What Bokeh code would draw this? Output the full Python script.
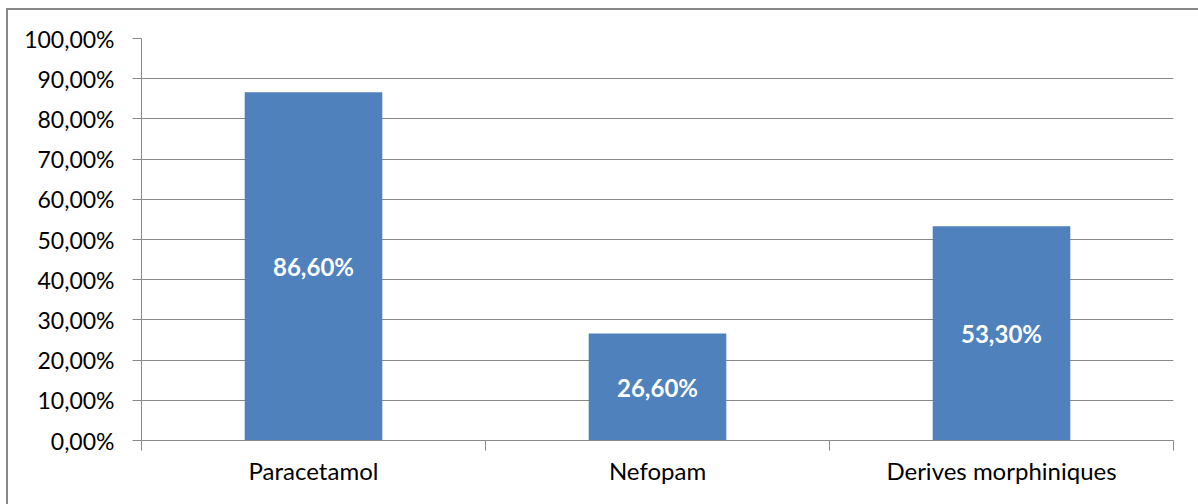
from bokeh.plotting import figure
from bokeh.models import ColumnDataSource, FixedTicker, Range1d, LabelSet
from bokeh.core.properties import value
from bokeh.embed import file_html
from bokeh.resources import INLINE

categories = ["Paracetamol", "Nefopam", "Derives morphiniques"]
values = [0.866, 0.266, 0.533]
value_labels = ["86,60%", "26,60%", "53,30%"]
y_ticks = [0.0, 0.1, 0.2, 0.3, 0.4, 0.5, 0.6, 0.7, 0.8, 0.9, 1.0]
y_tick_labels = ["0,00%", "10,00%", "20,00%", "30,00%", "40,00%", "50,00%",
                 "60,00%", "70,00%", "80,00%", "90,00%", "100,00%"]

FONT = "Lato"
GRID = "#898989"

xs = [i + 0.5 for i in range(len(categories))]
src = ColumnDataSource(dict(x=xs, top=values, mid=[v / 2 for v in values], lab=value_labels))

p = figure(width=1192, height=496, output_backend="svg", toolbar_location=None,
           x_range=Range1d(0, len(categories)), y_range=Range1d(0, 1),
           min_border_left=133, min_border_right=27, min_border_top=28, min_border_bottom=66,
           margin=(8, 0, 0, 6),
           styles={"border-left": "2px solid #888888", "border-top": "2px solid #888888"})
p.outline_line_color = None
p.background_fill_color = "white"
p.border_fill_color = "white"

p.vbar(x="x", top="top", width=0.4, source=src, fill_color="#4F81BD", line_color=None)

p.add_layout(LabelSet(x="x", y="mid", text="lab", source=src, text_color="white",
                      text_font=value(FONT), text_font_style="bold", text_font_size="24px",
                      text_align="center", text_baseline="middle"))

# y axis
p.yaxis.ticker = FixedTicker(ticks=y_ticks, minor_ticks=[])
p.yaxis.major_label_overrides = {t: l for t, l in zip(y_ticks, y_tick_labels)}
p.yaxis.axis_line_color = GRID
p.yaxis.major_tick_line_color = GRID
p.yaxis.major_tick_out = 9
p.yaxis.major_tick_in = 0
p.yaxis.minor_tick_line_color = None
p.yaxis.major_label_standoff = 18
p.yaxis.major_label_text_font = FONT
p.yaxis.major_label_text_font_size = "23px"
p.yaxis.major_label_text_color = "black"

# x axis: labels at centres, ticks at category boundaries
p.xaxis.ticker = FixedTicker(ticks=xs, minor_ticks=[0, 1, 2, 3])
p.xaxis.major_label_overrides = {x: c for x, c in zip(xs, categories)}
p.xaxis.axis_line_color = GRID
p.xaxis.major_tick_line_color = None
p.xaxis.major_tick_out = 0
p.xaxis.major_tick_in = 0
p.xaxis.minor_tick_line_color = GRID
p.xaxis.minor_tick_out = 10
p.xaxis.minor_tick_in = 0
p.xaxis.major_label_standoff = 5
p.xaxis.major_label_text_font = FONT
p.xaxis.major_label_text_font_size = "24px"
p.xaxis.major_label_text_color = "black"

p.xgrid.grid_line_color = None
p.ygrid.ticker = FixedTicker(ticks=y_ticks)
p.ygrid.grid_line_color = GRID
p.ygrid.grid_line_width = 1

open("out.html", "w").write(file_html(p, INLINE))
